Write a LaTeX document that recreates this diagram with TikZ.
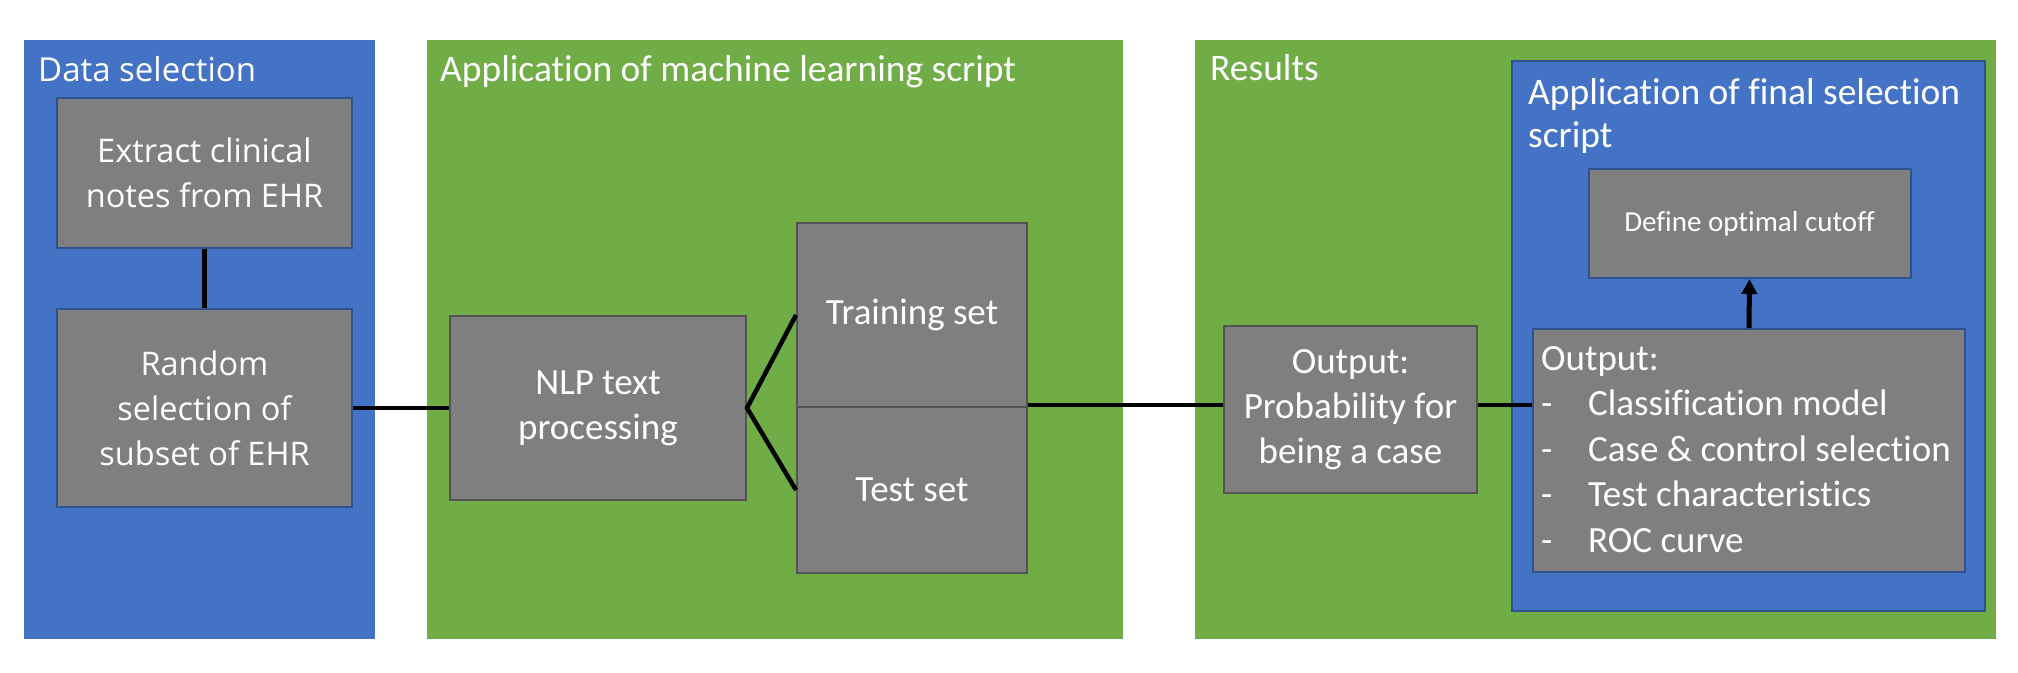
\documentclass[tikz,border=0pt]{standalone}
\usepackage{fontspec}
\setmainfont{Carlito}[Ligatures={NoCommon}]
\newfontfamily\seg{Open Sans}
\usetikzlibrary{arrows.meta}
\definecolor{oblue}{HTML}{4472C4}
\definecolor{ogreen}{HTML}{70AD47}
\definecolor{ogray}{HTML}{7F7F7F}
\definecolor{bborder}{HTML}{2F528F}
\definecolor{gborder}{HTML}{545454}
\begin{document}
\begin{tikzpicture}[x=1pt,y=-1pt,
  box/.style={fill=ogray, line width=2pt, text=white, align=center, inner sep=0pt},
  bbox/.style={box, draw=bborder},
  gbox/.style={box, draw=gborder},
  segtxt/.style={font=\seg\fontsize{32.5}{45}\selectfont},
  caltxt/.style={font=\fontsize{37}{45}\selectfont},
  ptitle/.style={text=white, inner sep=0pt},
  conn/.style={line width=4.5pt, draw=black},
]
\useasboundingbox (0,0) rectangle (2018,672);
\fill[white] (0,0) rectangle (2018,672);
% panels
\fill[oblue] (24,40) rectangle (375,639);
\fill[ogreen] (427,40) rectangle (1123,639);
\fill[ogreen] (1195,40) rectangle (1996,639);
\filldraw[fill=oblue, draw=bborder, line width=2pt] (1512,61) rectangle (1985,611);
% titles
\node[ptitle, anchor=base west, font=\seg\fontsize{33}{40}\selectfont] (tdata) at (38,81) {Data selection};
\node[ptitle, anchor=base west, font=\fontsize{37.5}{44}\selectfont] (tml) at (440,81) {Application of machine learning script};
\node[ptitle, anchor=base west, font=\fontsize{37.5}{44}\selectfont] (tres) at (1210,80) {Results};
\node[ptitle, anchor=north west, align=left, font=\fontsize{37.5}{43}\selectfont] (tfin) at (1528,78) {Application of final selection\\script};
% boxes
\node[bbox, segtxt, minimum width=295pt, minimum height=150pt] (extract) at (204.5,173) {Extract clinical\\notes from EHR};
\node[bbox, segtxt, minimum width=295pt, minimum height=198pt] (random) at (204.5,408) {Random\\selection of\\subset of EHR};
\node[gbox, caltxt, minimum width=296pt, minimum height=184pt] (nlp) at (598,408) {NLP text\\processing};
\node[gbox, caltxt, minimum width=230pt, minimum height=184pt] (train) at (912,315) {Training set};
\node[gbox, caltxt, minimum width=230pt, minimum height=166pt] (test) at (912,490) {Test set};
\node[gbox, caltxt, minimum width=253pt, minimum height=167pt] (prob) at (1350.5,409.5) {Output:\\Probability for\\being a case};
\node[bbox, font=\fontsize{29}{36}\selectfont, minimum width=322pt, minimum height=109pt] (define) at (1749.5,223.5) {Define optimal cutoff};
\node[bbox, minimum width=432pt, minimum height=243pt] (list) at (1749,450.5) {};
\node[text=white, anchor=west, align=left, inner sep=0pt, font=\fontsize{37}{45.5}\selectfont] (listtxt) at ([xshift=9pt,yshift=1pt]list.west)
  {Output:\\\makebox[47pt][l]{-}Classification model\\\makebox[47pt][l]{-}Case \& control selection\\\makebox[47pt][l]{-}Test characteristics\\\makebox[47pt][l]{-}ROC curve};
% connectors
\draw[conn] (extract.south) -- (random.north);
\draw[conn] (random.east) -- (nlp.west);
\draw[conn, line join=miter] (train.west) -- (nlp.east) -- (test.west);
\coordinate (j) at ([yshift=3pt]train.south east);
\draw[conn] (j) -- (j -| prob.west);
\draw[conn] (j -| prob.east) -- (j -| list.west);
\draw[conn, line width=5pt, -{Triangle[width=15pt,length=15pt]}] (list.north) -- (define.south);
\end{tikzpicture}
\end{document}
